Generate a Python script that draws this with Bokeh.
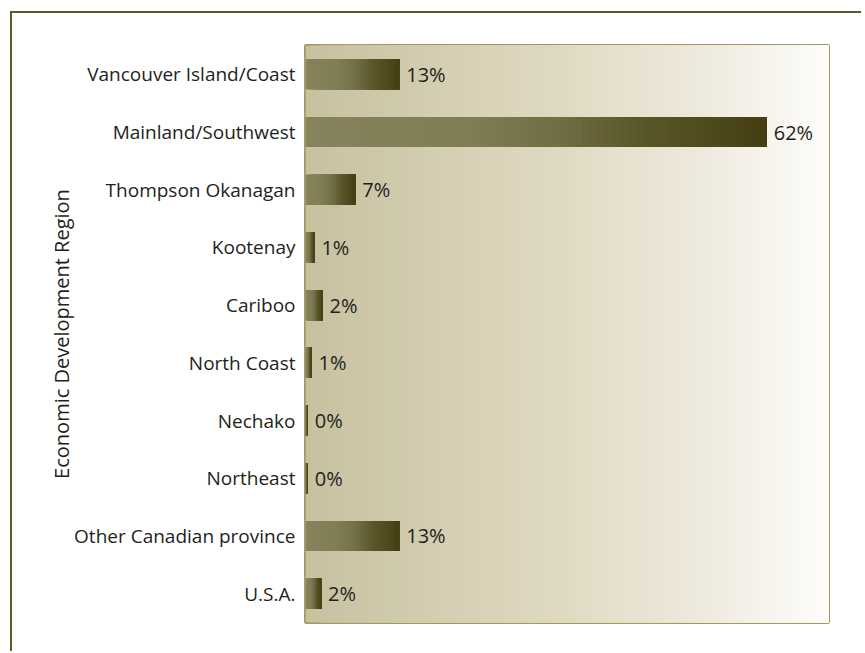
from bokeh.plotting import figure
from bokeh.models import Range1d, FixedTicker, ColumnDataSource
from bokeh.embed import file_html
from bokeh.resources import INLINE
from bokeh.core.properties import value

# ---- data ----
categories = ["Vancouver Island/Coast", "Mainland/Southwest", "Thompson Okanagan",
              "Kootenay", "Cariboo", "North Coast", "Nechako", "Northeast",
              "Other Canadian province", "U.S.A."]
shares = [12.6, 62.0, 6.7, 1.2, 2.3, 0.8, 0.3, 0.3, 12.6, 2.1]
share_labels = ["13%", "62%", "7%", "1%", "2%", "1%", "0%", "0%", "13%", "2%"]
axis_title = "Economic Development Region"

# ---- style ----
X_MAX = 70.3
FONT = "Open Sans"
TEXT_COLOR = "#231f20"
BAR_STOPS = [(0.0, (0x87, 0x83, 0x5d)), (0.35, (0x80, 0x7e, 0x55)),
             (0.55, (0x71, 0x6d, 0x44)), (0.72, (0x5a, 0x57, 0x29)),
             (0.88, (0x4e, 0x4a, 0x1c)), (1.0, (0x45, 0x3e, 0x13))]
BG_STOPS = [(0.0, (0xc7, 0xc1, 0xa0)), (0.5, (0xe1, 0xda, 0xc3)),
            (0.75, (0xee, 0xe9, 0xdd)), (1.0, (0xfe, 0xfd, 0xfb))]


def grad(stops, t):
    for (t0, c0), (t1, c1) in zip(stops[:-1], stops[1:]):
        if t <= t1:
            f = (t - t0) / (t1 - t0) if t1 > t0 else 0
            return "#%02x%02x%02x" % tuple(int(round(a + (b - a) * f)) for a, b in zip(c0, c1))
    return "#%02x%02x%02x" % stops[-1][1]


p = figure(width=851, height=640, x_range=Range1d(0, X_MAX), y_range=Range1d(9.5, -0.5),
           output_backend="svg", toolbar_location=None,
           min_border_left=293, min_border_top=32, min_border_right=35, min_border_bottom=31)
p.styles = {"border-left": "2px solid #5d5c28", "border-top": "2px solid #5d5c28",
            "margin-left": "10px", "margin-top": "11px"}

# background gradient of the plot area
NB = 120
bg = dict(left=[], right=[], bottom=[], top=[], color=[])
for i in range(NB):
    bg["left"].append(X_MAX * i / NB)
    bg["right"].append(X_MAX)
    bg["bottom"].append(9.5)
    bg["top"].append(-0.5)
    bg["color"].append(grad(BG_STOPS, (i + 0.5) / NB))
p.quad(source=ColumnDataSource(bg), left="left", right="right", bottom="bottom", top="top",
       fill_color="color", line_color=None)

# gradient bars
NS = 60
bars = dict(left=[], right=[], bottom=[], top=[], color=[])
for k, v in enumerate(shares):
    for i in range(NS):
        bars["left"].append(v * i / NS)
        bars["right"].append(v)
        bars["bottom"].append(k + 0.26)
        bars["top"].append(k - 0.26)
        bars["color"].append(grad(BAR_STOPS, (i + 0.5) / NS))
p.quad(source=ColumnDataSource(bars), left="left", right="right", bottom="bottom", top="top",
       fill_color="color", line_color=None)

# value labels
p.text(x=shares, y=list(range(len(categories))), text=share_labels,
       x_offset=7, text_baseline="middle", text_align="left",
       text_font=value(FONT), text_font_size="20px", text_color=TEXT_COLOR)

p.xaxis.visible = False
p.xgrid.visible = False
p.ygrid.visible = False
p.yaxis.ticker = FixedTicker(ticks=list(range(len(categories))))
p.yaxis.major_label_overrides = {i: c for i, c in enumerate(categories)}
p.yaxis.major_label_text_font = FONT
p.yaxis.major_label_text_font_size = "19px"
p.yaxis.major_label_text_color = TEXT_COLOR
p.yaxis.major_label_standoff = 10
p.yaxis.major_tick_out = 0
p.yaxis.major_tick_in = 0
p.yaxis.major_tick_line_color = None
p.yaxis.minor_tick_line_color = None
p.yaxis.axis_line_color = None
p.yaxis.axis_label = axis_title
p.yaxis.axis_label_text_font = FONT
p.yaxis.axis_label_text_font_size = "20px"
p.yaxis.axis_label_text_font_style = "normal"
p.yaxis.axis_label_text_color = TEXT_COLOR
p.yaxis.axis_label_standoff = -4

p.outline_line_color = "#a39a63"
p.outline_line_width = 3
p.background_fill_color = "#fefdfb"
p.border_fill_color = "white"

open("out.html", "w").write(file_html(p, INLINE))
